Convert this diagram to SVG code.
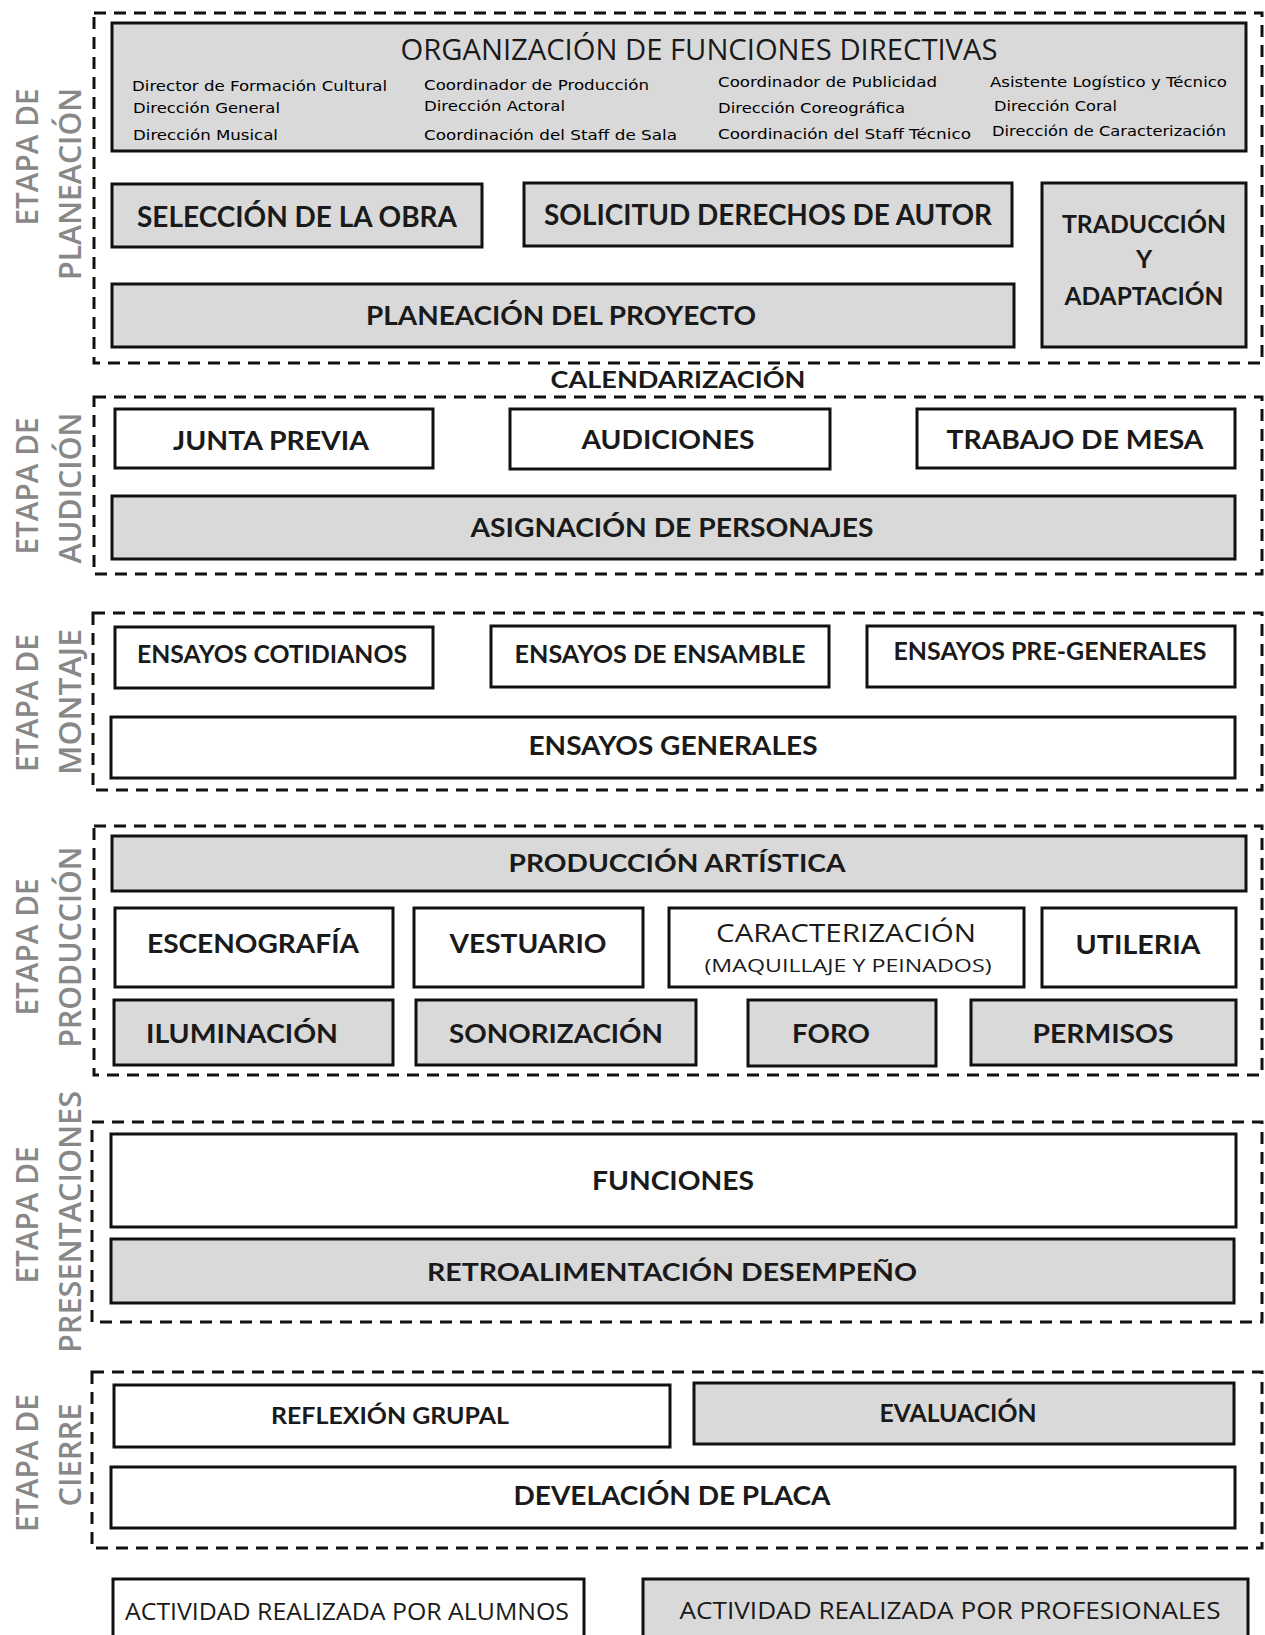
<svg xmlns="http://www.w3.org/2000/svg" width="1265" height="1635" viewBox="0 0 1265 1635">
<style>
.frame{fill:none;stroke:#111;stroke-width:3;stroke-dasharray:12 8}
.box{stroke:#111;stroke-width:3}
.g{fill:#d9d9d9}
.w{fill:#fff}
.t{font-family:Lato,"Open Sans","Liberation Sans",sans-serif;font-weight:bold;fill:#1a1a1a;text-anchor:middle}
.r{font-family:"Open Sans",Lato,"Liberation Sans",sans-serif;font-weight:normal;fill:#1a1a1a;text-anchor:middle}
.s{font-family:"DejaVu Sans","Liberation Sans",sans-serif;font-size:14px;fill:#000}
.side{font-family:"Open Sans",Lato,"Liberation Sans",sans-serif;font-size:31px;font-weight:600;fill:#888;text-anchor:middle}
</style>
<rect width="1265" height="1635" fill="#fff"/>

<g id="frames">
<rect class="frame" x="94" y="13" width="1168" height="350"/>
<rect class="frame" x="94" y="397" width="1168" height="177"/>
<rect class="frame" x="93" y="613" width="1169" height="177"/>
<rect class="frame" x="94" y="826" width="1168" height="249"/>
<rect class="frame" x="92" y="1122" width="1170" height="200"/>
<rect class="frame" x="92" y="1372" width="1170" height="176"/>
</g>

<g id="stage-labels">
<text class="side" transform="translate(37.5,157) rotate(-90)" textLength="137" lengthAdjust="spacingAndGlyphs">ETAPA DE</text>
<text class="side" transform="translate(80.5,184) rotate(-90)" textLength="192" lengthAdjust="spacingAndGlyphs">PLANEACIÓN</text>
<text class="side" transform="translate(37.5,486) rotate(-90)" textLength="137" lengthAdjust="spacingAndGlyphs">ETAPA DE</text>
<text class="side" transform="translate(80.5,488) rotate(-90)" textLength="151" lengthAdjust="spacingAndGlyphs">AUDICIÓN</text>
<text class="side" transform="translate(37.5,703) rotate(-90)" textLength="138" lengthAdjust="spacingAndGlyphs">ETAPA DE</text>
<text class="side" transform="translate(80.5,702) rotate(-90)" textLength="146" lengthAdjust="spacingAndGlyphs">MONTAJE</text>
<text class="side" transform="translate(37.5,947) rotate(-90)" textLength="137" lengthAdjust="spacingAndGlyphs">ETAPA DE</text>
<text class="side" transform="translate(80.5,947) rotate(-90)" textLength="201" lengthAdjust="spacingAndGlyphs">PRODUCCIÓN</text>
<text class="side" transform="translate(37.5,1215) rotate(-90)" textLength="137" lengthAdjust="spacingAndGlyphs">ETAPA DE</text>
<text class="side" transform="translate(80.5,1222) rotate(-90)" textLength="262" lengthAdjust="spacingAndGlyphs">PRESENTACIONES</text>
<text class="side" transform="translate(37.5,1463) rotate(-90)" textLength="138" lengthAdjust="spacingAndGlyphs">ETAPA DE</text>
<text class="side" transform="translate(80.5,1455) rotate(-90)" textLength="103" lengthAdjust="spacingAndGlyphs">CIERRE</text>
</g>

<g id="organizacion">
<rect class="box g" x="112" y="23" width="1134" height="128"/>
<text class="r" x="699" y="60" font-size="30" textLength="597" lengthAdjust="spacingAndGlyphs">ORGANIZACIÓN DE FUNCIONES DIRECTIVAS</text>
<text class="s" x="132" y="91" textLength="255" lengthAdjust="spacingAndGlyphs">Director de Formación Cultural</text>
<text class="s" x="133" y="113" textLength="147" lengthAdjust="spacingAndGlyphs">Dirección General</text>
<text class="s" x="133" y="140" textLength="145" lengthAdjust="spacingAndGlyphs">Dirección Musical</text>
<text class="s" x="424" y="90" textLength="225" lengthAdjust="spacingAndGlyphs">Coordinador de Producción</text>
<text class="s" x="424" y="111" textLength="141" lengthAdjust="spacingAndGlyphs">Dirección Actoral</text>
<text class="s" x="424" y="140" textLength="253" lengthAdjust="spacingAndGlyphs">Coordinación del Staff de Sala</text>
<text class="s" x="718" y="87" textLength="219" lengthAdjust="spacingAndGlyphs">Coordinador de Publicidad</text>
<text class="s" x="718" y="113" textLength="187" lengthAdjust="spacingAndGlyphs">Dirección Coreográfica</text>
<text class="s" x="718" y="139" textLength="253" lengthAdjust="spacingAndGlyphs">Coordinación del Staff Técnico</text>
<text class="s" x="990" y="87" textLength="237" lengthAdjust="spacingAndGlyphs">Asistente Logístico y Técnico</text>
<text class="s" x="994" y="111" textLength="123" lengthAdjust="spacingAndGlyphs">Dirección Coral</text>
<text class="s" x="992" y="136" textLength="234" lengthAdjust="spacingAndGlyphs">Dirección de Caracterización</text>
</g>

<g id="seleccion">
<rect class="box g" x="112" y="184" width="370" height="63"/>
<text class="t" x="297" y="227" font-size="29" textLength="320" lengthAdjust="spacingAndGlyphs">SELECCIÓN DE LA OBRA</text>
</g>
<g id="solicitud">
<rect class="box g" x="524" y="183" width="488" height="63"/>
<text class="t" x="768" y="225" font-size="28" textLength="448" lengthAdjust="spacingAndGlyphs">SOLICITUD DERECHOS DE AUTOR</text>
</g>
<g id="traduccion">
<rect class="box g" x="1042" y="183" width="204" height="164"/>
<text class="t" x="1144" y="233" font-size="25" textLength="164" lengthAdjust="spacingAndGlyphs">TRADUCCIÓN</text>
<text class="t" x="1144" y="268" font-size="25">Y</text>
<text class="t" x="1144" y="305" font-size="25" textLength="159" lengthAdjust="spacingAndGlyphs">ADAPTACIÓN</text>
</g>
<g id="planeacion-proyecto">
<rect class="box g" x="112" y="284" width="902" height="63"/>
<text class="t" x="561" y="325" font-size="27" textLength="390" lengthAdjust="spacingAndGlyphs">PLANEACIÓN DEL PROYECTO</text>
</g>

<g id="calendarizacion">
<text class="t" x="678" y="388" font-size="22" fill="#000" textLength="255" lengthAdjust="spacingAndGlyphs">CALENDARIZACIÓN</text>
</g>

<g id="junta-previa">
<rect class="box w" x="115" y="409" width="318" height="59"/>
<text class="t" x="271" y="450" font-size="26" textLength="196" lengthAdjust="spacingAndGlyphs">JUNTA PREVIA</text>
</g>
<g id="audiciones">
<rect class="box w" x="510" y="409" width="320" height="60"/>
<text class="t" x="668" y="449" font-size="26" textLength="173" lengthAdjust="spacingAndGlyphs">AUDICIONES</text>
</g>
<g id="trabajo-mesa">
<rect class="box w" x="917" y="409" width="318" height="59"/>
<text class="t" x="1075" y="449" font-size="26" textLength="257" lengthAdjust="spacingAndGlyphs">TRABAJO DE MESA</text>
</g>
<g id="asignacion">
<rect class="box g" x="112" y="496" width="1123" height="63"/>
<text class="t" x="672" y="537" font-size="26" textLength="403" lengthAdjust="spacingAndGlyphs">ASIGNACIÓN DE PERSONAJES</text>
</g>

<g id="ensayos-cotidianos">
<rect class="box w" x="115" y="627" width="318" height="61"/>
<text class="t" x="272" y="663" font-size="25" textLength="270" lengthAdjust="spacingAndGlyphs">ENSAYOS COTIDIANOS</text>
</g>
<g id="ensayos-ensamble">
<rect class="box w" x="491" y="626" width="338" height="61"/>
<text class="t" x="660" y="663" font-size="25" textLength="291" lengthAdjust="spacingAndGlyphs">ENSAYOS DE ENSAMBLE</text>
</g>
<g id="ensayos-pregenerales">
<rect class="box w" x="867" y="626" width="368" height="61"/>
<text class="t" x="1050" y="660" font-size="25" textLength="313" lengthAdjust="spacingAndGlyphs">ENSAYOS PRE-GENERALES</text>
</g>
<g id="ensayos-generales">
<rect class="box w" x="111" y="717" width="1124" height="61"/>
<text class="t" x="673" y="755" font-size="26" textLength="289" lengthAdjust="spacingAndGlyphs">ENSAYOS GENERALES</text>
</g>

<g id="produccion-artistica">
<rect class="box g" x="112" y="836" width="1134" height="55"/>
<text class="t" x="677" y="872" font-size="25" textLength="337" lengthAdjust="spacingAndGlyphs">PRODUCCIÓN ARTÍSTICA</text>
</g>
<g id="escenografia">
<rect class="box w" x="115" y="908" width="278" height="79"/>
<text class="t" x="253" y="953" font-size="26" textLength="212" lengthAdjust="spacingAndGlyphs">ESCENOGRAFÍA</text>
</g>
<g id="vestuario">
<rect class="box w" x="414" y="908" width="229" height="79"/>
<text class="t" x="528" y="953" font-size="26" textLength="157" lengthAdjust="spacingAndGlyphs">VESTUARIO</text>
</g>
<g id="caracterizacion">
<rect class="box w" x="669" y="908" width="355" height="79"/>
<text class="r" x="846" y="942" font-size="25" textLength="260" lengthAdjust="spacingAndGlyphs">CARACTERIZACIÓN</text>
<text class="r" x="848" y="972" font-size="18" textLength="287" lengthAdjust="spacingAndGlyphs">(MAQUILLAJE Y PEINADOS)</text>
</g>
<g id="utileria">
<rect class="box w" x="1042" y="908" width="194" height="79"/>
<text class="t" x="1138" y="954" font-size="26" textLength="125" lengthAdjust="spacingAndGlyphs">UTILERIA</text>
</g>
<g id="iluminacion">
<rect class="box g" x="114" y="1000" width="279" height="65"/>
<text class="t" x="242" y="1043" font-size="26" textLength="192" lengthAdjust="spacingAndGlyphs">ILUMINACIÓN</text>
</g>
<g id="sonorizacion">
<rect class="box g" x="416" y="1000" width="280" height="65"/>
<text class="t" x="556" y="1043" font-size="26" textLength="214" lengthAdjust="spacingAndGlyphs">SONORIZACIÓN</text>
</g>
<g id="foro">
<rect class="box g" x="748" y="1000" width="188" height="66"/>
<text class="t" x="831" y="1043" font-size="26" textLength="78" lengthAdjust="spacingAndGlyphs">FORO</text>
</g>
<g id="permisos">
<rect class="box g" x="971" y="1000" width="265" height="65"/>
<text class="t" x="1103" y="1043" font-size="26" textLength="141" lengthAdjust="spacingAndGlyphs">PERMISOS</text>
</g>

<g id="funciones">
<rect class="box w" x="111" y="1134" width="1125" height="93"/>
<text class="t" x="673" y="1190" font-size="26" textLength="162" lengthAdjust="spacingAndGlyphs">FUNCIONES</text>
</g>
<g id="retroalimentacion">
<rect class="box g" x="111" y="1239" width="1123" height="64"/>
<text class="t" x="672" y="1281" font-size="25" textLength="490" lengthAdjust="spacingAndGlyphs">RETROALIMENTACIÓN DESEMPEÑO</text>
</g>

<g id="reflexion">
<rect class="box w" x="114" y="1385" width="556" height="62"/>
<text class="t" x="390" y="1424" font-size="23" textLength="238" lengthAdjust="spacingAndGlyphs">REFLEXIÓN GRUPAL</text>
</g>
<g id="evaluacion">
<rect class="box g" x="694" y="1383" width="540" height="61"/>
<text class="t" x="958" y="1422" font-size="24" textLength="157" lengthAdjust="spacingAndGlyphs">EVALUACIÓN</text>
</g>
<g id="develacion">
<rect class="box w" x="111" y="1467" width="1124" height="61"/>
<text class="t" x="672" y="1505" font-size="26" textLength="317" lengthAdjust="spacingAndGlyphs">DEVELACIÓN DE PLACA</text>
</g>

<g id="legend-alumnos">
<rect class="box w" x="113" y="1579" width="471" height="70"/>
<text class="r" x="347" y="1620" font-size="24" textLength="444" lengthAdjust="spacingAndGlyphs">ACTIVIDAD REALIZADA POR ALUMNOS</text>
</g>
<g id="legend-profesionales">
<rect class="box g" x="643" y="1579" width="605" height="70"/>
<text class="r" x="950" y="1619" font-size="24" textLength="541" lengthAdjust="spacingAndGlyphs">ACTIVIDAD REALIZADA POR PROFESIONALES</text>
</g>

<g id="connectors"></g>
</svg>
